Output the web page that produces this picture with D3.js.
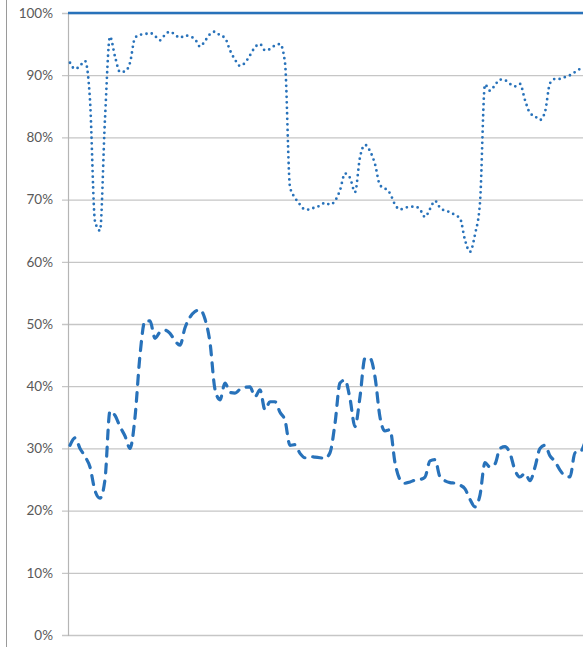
<!DOCTYPE html>
<html>
<head>
<meta charset="utf-8">
<script src="https://cdn.jsdelivr.net/npm/d3@7"></script>
<style>
  html, body { margin: 0; padding: 0; background: #fff; }
  svg { display: block; }
</style>
</head>
<body>
<div id="chart"></div>
<script>
const w = 583;
const h = 647;

// tick labels on the y axis
const yTicks = [0, 10, 20, 30, 40, 50, 60, 70, 80, 90, 100];

// solid line (top)
const target = [
  100, 100, 100, 100, 100, 100, 100, 100, 100, 100, 100, 100, 100, 100, 100, 100,
  100, 100, 100, 100, 100, 100, 100, 100, 100, 100, 100, 100, 100, 100, 100, 100,
  100, 100, 100, 100, 100, 100, 100, 100, 100, 100, 100, 100, 100, 100, 100, 100,
  100, 100, 100, 100, 100, 100, 100, 100, 100, 100, 100, 100, 100, 100, 100, 100,
  100, 100, 100, 100, 100, 100, 100, 100, 100, 100, 100, 100, 100, 100, 100, 100,
  100, 100, 100, 100, 100, 100, 100, 100, 100, 100, 100, 100, 100, 100, 100, 100,
  100, 100, 100, 100, 100, 100, 100, 100
];

// dotted line
const dotted = [
  92.0, 91.0, 91.5, 92.3, 86.0, 66.5, 65.0, 83.0, 96.2, 93.0, 90.5, 90.6, 92.0, 96.0,
  96.5, 96.6, 96.8, 96.3, 95.6, 96.5, 97.0, 96.5, 96.0, 96.4, 96.2, 95.8, 94.6, 95.5,
  96.6, 97.0, 96.4, 96.0, 94.0, 92.5, 91.5, 92.0, 93.2, 94.5, 95.0, 94.0, 94.2, 94.8,
  95.0, 92.0, 72.0, 70.3, 69.2, 68.4, 68.4, 68.8, 69.0, 69.5, 69.2, 69.8, 71.5, 74.2,
  73.5, 71.2, 76.8, 78.8, 77.8, 75.7, 72.3, 71.8, 71.0, 69.2, 68.4, 68.7, 68.8, 68.9,
  68.4, 67.2, 68.5, 69.8, 68.7, 68.2, 68.0, 67.5, 67.0, 63.5, 61.6, 64.4, 69.5, 88.5,
  87.5, 88.4, 89.3, 89.2, 88.6, 88.2, 88.6, 86.0, 83.9, 83.4, 82.8, 84.1, 88.7, 89.4,
  89.4, 89.7, 90.0, 90.5, 91.0, 91.2
];

// dashed line
const dashed = [
  30.5, 31.7, 30.0, 28.7, 27.0, 23.2, 22.0, 25.0, 36.0, 35.3, 33.5, 32.0, 30.0, 35.0,
  45.0, 50.5, 50.5, 47.7, 48.7, 49.0, 48.5, 47.3, 46.6, 49.4, 51.1, 52.0, 52.3, 50.8,
  47.0, 39.5, 37.8, 40.5, 39.0, 38.9, 39.5, 39.8, 39.9, 38.3, 39.4, 36.2, 37.5, 37.5,
  35.8, 34.5, 30.5, 30.6, 29.2, 28.5, 28.7, 28.6, 28.5, 28.4, 29.3, 34.0, 40.5, 41.0,
  38.0, 33.5, 38.3, 44.5, 44.5, 41.5, 35.0, 32.8, 33.0, 27.7, 25.0, 24.4, 24.6, 24.9,
  25.0, 25.4, 28.0, 28.2, 25.4, 24.8, 24.5, 24.4, 24.1, 23.5, 21.8, 20.6, 22.5, 27.7,
  27.0, 27.5, 30.0, 30.3, 29.2, 26.5, 25.4, 26.0, 24.8, 27.0, 30.0, 30.5, 28.8, 27.9,
  26.5, 25.6, 25.4, 29.3, 29.4, 31.0
];

const svg = d3.select("#chart")
                .append("svg")
                .attr("width", w)
                .attr("height", h);

const plotLeft = 68;
const plotTop = 13;
const plotBottom = 635;

const y = d3.scaleLinear()
            .domain([0, 100])
            .range([plotBottom, plotTop]);

const x = d3.scaleLinear()
            .domain([0, dotted.length - 1])
            .range([70, 70 + 5 * (dotted.length - 1)]);

// outer border on the left
svg.append("line")
    .attr("x1", 6.5).attr("x2", 6.5)
    .attr("y1", 0).attr("y2", h)
    .attr("stroke", "#9a9a9a")
    .attr("stroke-width", 1);

// gridlines + labels
const yAxis = d3.axisLeft(y)
                .tickValues(yTicks)
                .tickSize(-(w - plotLeft))
                .tickPadding(15)
                .tickFormat(d => d + "%");

const gAxis = svg.append("g")
    .attr("transform", "translate(" + plotLeft + ",0)")
    .call(yAxis);

gAxis.select(".domain").remove();
gAxis.selectAll(".tick line")
    .attr("x1", -6)
    .attr("stroke", "#c6c6c6")
    .attr("stroke-width", 1.3);
gAxis.selectAll(".tick text")
    .attr("fill", "#595959")
    .style("font-family", "Lato, 'Open Sans', sans-serif")
    .style("font-size", "13.5px");

// vertical axis line
svg.append("line")
    .attr("x1", plotLeft + 0.5).attr("x2", plotLeft + 0.5)
    .attr("y1", plotTop).attr("y2", plotBottom + 1)
    .attr("stroke", "#b5b5b5")
    .attr("stroke-width", 1.2);

const line = d3.line()
    .x((d, i) => x(i))
    .y(d => y(d))
    .curve(d3.curveMonotoneX);

const blue = "#2872ba";

svg.append("path")
    .datum(dashed)
    .attr("d", line)
    .attr("fill", "none")
    .attr("stroke", blue)
    .attr("stroke-width", 3.2)
    .attr("stroke-linecap", "round")
    .attr("stroke-dasharray", "9,8");

svg.append("path")
    .datum(dotted)
    .attr("d", line)
    .attr("fill", "none")
    .attr("stroke", blue)
    .attr("stroke-width", 2.8)
    .attr("stroke-linecap", "round")
    .attr("stroke-dasharray", "0,5.5");

const flat = d3.line()
    .x((d, i) => i === 0 ? plotLeft : x(i))
    .y(d => y(d));

svg.append("path")
    .datum(target)
    .attr("d", flat)
    .attr("fill", "none")
    .attr("stroke", blue)
    .attr("stroke-width", 2.5);
</script>
</body>
</html>
